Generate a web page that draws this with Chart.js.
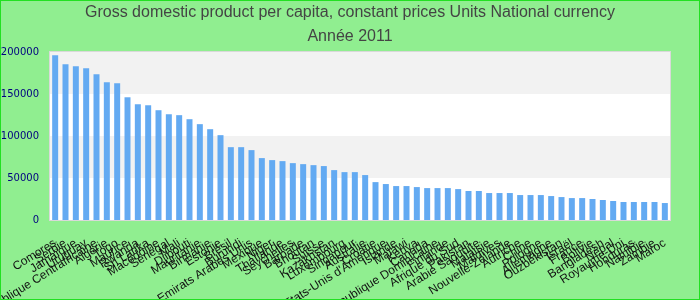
<!DOCTYPE html>
<html>
<head>
<meta charset="utf-8">
<script src="https://cdn.jsdelivr.net/npm/chart.js@4"></script>
<style>
body{margin:0;background:#90ee90;}
</style>
</head>
<body>
<canvas id="chart" width="700" height="300"></canvas>
<script>

const titleLines = ["Gross domestic product per capita, constant prices Units National currency","Année 2011"];

const pays = ["Comores","Serbie","Jamaïque","Uruguay","République Centrafricaine","Algérie","Togo","Maurice","Rwanda","Sri Lanka",
"Macédoine","Sénégal","Mali","Djibouti","Mauritanie","Birmanie","Estonie","Brésil","Burundi","Emirats Arabes Unis",
"Mexique","Niger","Thaïlande","Seychelles","Barbade","Bhoutan","Suisse","Kazakhstan","Luxembourg","Singapour",
"Australie","Croatie","Etats-Unis d'Amérique","Islande","Malawi","Kenya","Canada","République Dominicaine","Finlande","Afrique du Sud",
"Pakistan","Arabie Saoudite","Malaisie","Maldives","Nouvelle-Zélande","Autriche","Chine","Pologne","Allemagne","Ouzbékistan",
"Israël","France","Bolivie","Bangladesh","Népal","Royaume-Uni","Honduras","Namibie","Zambie","Maroc"];

const valeurs = [196000,185300,183000,180600,173500,164000,162800,146100,137800,136600,
130700,125900,124800,120000,114100,108100,101000,86700,86700,83200,
73700,71300,70100,67700,66500,65300,64200,59400,57000,57000,
53500,45100,42800,40400,40400,39200,38000,38000,38000,36800,
34500,34500,32100,32100,32100,29700,29700,29700,28500,27300,
26100,26100,25000,23800,22600,21400,21400,21400,21400,20200];

const yTicks = [0,50000,100000,150000,200000];

/* fond, titre, bandes et cadres */
const decor = {
id:"decor",
beforeDraw(chart){
let ctx = chart.ctx;
let a = chart.chartArea;
let y = chart.scales.y;
ctx.save();
ctx.fillStyle = "#90ee90";
ctx.fillRect(0,0,chart.width,chart.height);
ctx.fillStyle = "#ffffff";
ctx.fillRect(a.left,a.top,a.right-a.left,a.bottom-a.top);
ctx.fillStyle = "#f2f2f2";
for(let i=1;i<yTicks.length;i+=2){
let top = y.getPixelForValue(yTicks[i+1]);
let bot = y.getPixelForValue(yTicks[i]);
ctx.fillRect(a.left,top,a.right-a.left,bot-top);
}
ctx.fillStyle = "#444444";
ctx.font = "16px 'Liberation Sans'";
ctx.textAlign = "center";
ctx.textBaseline = "middle";
titleLines.forEach((t,i)=>{
ctx.fillText(t,chart.width/2,13+i*24);
});
ctx.restore();
},
afterDraw(chart){
let ctx = chart.ctx;
let a = chart.chartArea;
ctx.save();
ctx.strokeStyle = "#d9d9d9";
ctx.lineWidth = 1;
ctx.strokeRect(a.left-0.5,a.top-0.5,a.right-a.left+1,a.bottom-a.top+1);
ctx.strokeStyle = "#22e022";
ctx.strokeRect(0.5,0.5,chart.width-1,chart.height-1);
ctx.restore();
}
};

new Chart(document.getElementById("chart"),{

type:"bar",

data:{
labels:pays,
datasets:[{
data:valeurs,
backgroundColor:"rgb(99,170,242)",
barPercentage:0.58,
categoryPercentage:1
}]
},

options:{
responsive:false,
animation:false,
layout:{padding:{left:0,right:30,top:52,bottom:0}},
plugins:{
legend:{display:false},
tooltip:{enabled:false},
title:{display:false}
},
scales:{
x:{
grid:{display:false},
border:{display:false},
ticks:{
autoSkip:false,
minRotation:32,
maxRotation:32,
padding:8,
color:"#111111",
font:{family:"Liberation Sans",size:12}
},
afterFit(scale){ scale.height = 80; }
},
y:{
min:0,
max:200000,
grid:{display:false,drawTicks:false},
border:{display:false},
ticks:{
stepSize:50000,
padding:11,
color:"#000080",
font:{family:"DejaVu Sans",size:10},
callback:v=>String(v)
},
afterFit(scale){ scale.width = 50; }
}
}
},

plugins:[decor]

});

</script>
</body>
</html>
